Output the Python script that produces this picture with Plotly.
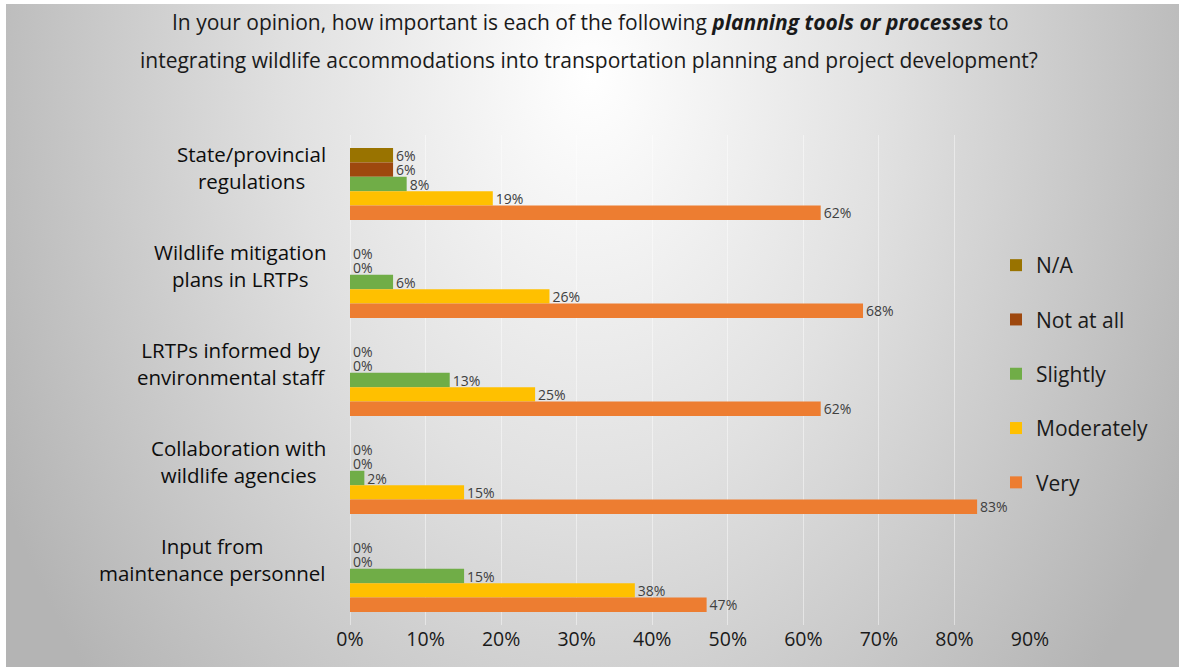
import base64
import plotly.graph_objects as go

# Survey categories (top to bottom) and response levels
categories = [
    "State/provincial<br>regulations",
    "Wildlife mitigation<br>plans in LRTPs",
    "LRTPs informed by<br>environmental staff",
    "Collaboration with<br>wildlife agencies",
    "Input from<br>maintenance personnel",
]
levels = ["N/A", "Not at all", "Slightly", "Moderately", "Very"]

# Share of respondents per level, one list per level (order follows categories)
na_vals = [0.057, 0.0, 0.0, 0.0, 0.0]
not_at_all_vals = [0.057, 0.0, 0.0, 0.0, 0.0]
slightly_vals = [0.075, 0.057, 0.132, 0.019, 0.151]
moderately_vals = [0.189, 0.264, 0.245, 0.151, 0.377]
very_vals = [0.623, 0.679, 0.623, 0.830, 0.472]

series = [na_vals, not_at_all_vals, slightly_vals, moderately_vals, very_vals]
colors = ["#997300", "#9E480E", "#70AD47", "#FFC000", "#ED7D31"]

tick_vals = [0.0, 0.1, 0.2, 0.3, 0.4, 0.5, 0.6, 0.7, 0.8, 0.9]

W, H = 1179, 667
ML, MR, MT, MB = 350, 149, 135, 42
PW, PH = W - ML - MR, H - MT - MB


def px_x(p):
    return (p - ML) / PW


def px_y(p):
    return (H - MB - p) / PH


FONT = "Open Sans"
TXT = "#1a1a1a"

fig = go.Figure()
for name, vals, col in zip(levels, series, colors):
    fig.add_trace(go.Bar(
        orientation="h",
        y=categories,
        x=vals,
        name=name,
        legendgroup=name,
        marker=dict(color=col, line=dict(width=0)),
        texttemplate="%{x:.0%}",
        textposition="outside",
        constraintext="none",
        outsidetextfont=dict(family=FONT, size=14, color="#404040"),
        textfont=dict(family=FONT, size=14, color="#404040"),
        cliponaxis=False,
        hoverinfo="skip",
    ))

# Soft radial background behind the chart
bg_w, bg_h = W - 6, H - 4
svg = (
    f"<svg xmlns='http://www.w3.org/2000/svg' width='{bg_w}' height='{bg_h}' "
    f"viewBox='0 0 {bg_w} {bg_h}' preserveAspectRatio='none'>"
    "<defs><radialGradient id='g' gradientUnits='userSpaceOnUse' "
    "cx='584' cy='70' r='660' "
    "gradientTransform='translate(584 70) scale(1 1.4) translate(-584 -70)'>"
    "<stop offset='0' stop-color='#ffffff'/>"
    "<stop offset='0.45' stop-color='#e1e1e1'/>"
    "<stop offset='1' stop-color='#b4b4b4'/>"
    "</radialGradient></defs>"
    f"<rect x='0' y='0' width='{bg_w}' height='{bg_h}' fill='url(#g)'/></svg>"
)
src = "data:image/svg+xml;base64," + base64.b64encode(svg.encode()).decode()

annotations = []
# Title, two lines
annotations.append(dict(
    text="In your opinion, how important is each of the following "
         "<b><i>planning tools or processes</i></b> to",
    xref="paper", yref="paper", x=px_x(590), y=px_y(22),
    xanchor="center", yanchor="middle", showarrow=False,
    font=dict(family=FONT, size=21, color=TXT),
))
annotations.append(dict(
    text="integrating wildlife accommodations into transportation planning "
         "and project development?",
    xref="paper", yref="paper", x=px_x(589), y=px_y(60),
    xanchor="center", yanchor="middle", showarrow=False,
    font=dict(family=FONT, size=21, color=TXT),
))
# Category labels
for cat in categories:
    annotations.append(dict(
        text=cat, xref="paper", yref="y", x=0, y=cat,
        xanchor="right", yanchor="middle", xshift=-22, yshift=17,
        align="center", showarrow=False,
        font=dict(family=FONT, size=20.5, color="#0d0d0d"),
    ))

fig.update_layout(
    width=W, height=H,
    margin=dict(l=ML, r=MR, t=MT, b=MB, pad=0),
    paper_bgcolor="#ffffff",
    plot_bgcolor="rgba(0,0,0,0)",
    barmode="group",
    bargap=0.265,
    bargroupgap=0,
    showlegend=True,
    legend=dict(
        x=px_x(996), y=px_y(374), xanchor="left", yanchor="middle",
        bgcolor="rgba(0,0,0,0)", borderwidth=0,
        font=dict(family=FONT, size=21, color=TXT),
        tracegroupgap=24, traceorder="grouped",
    ),
    images=[dict(
        source=src, xref="paper", yref="paper",
        x=px_x(6), y=px_y(4), sizex=bg_w / PW, sizey=bg_h / PH,
        xanchor="left", yanchor="top", sizing="stretch", layer="below",
    )],
    annotations=annotations,
    font=dict(family=FONT),
)
fig.update_xaxes(
    range=[0, 0.9], tickvals=tick_vals, tickformat=".0%",
    showgrid=True, gridcolor="rgba(255,255,255,0.45)", gridwidth=1,
    zeroline=True, zerolinecolor="rgba(255,255,255,0.45)", zerolinewidth=1,
    showline=False, ticks="",
    tickfont=dict(family=FONT, size=19.5, color=TXT),
    fixedrange=True,
)
fig.update_yaxes(
    autorange="reversed", showticklabels=False, showgrid=False,
    zeroline=False, showline=False, ticks="", fixedrange=True,
)

fig.write_html("out.html")
